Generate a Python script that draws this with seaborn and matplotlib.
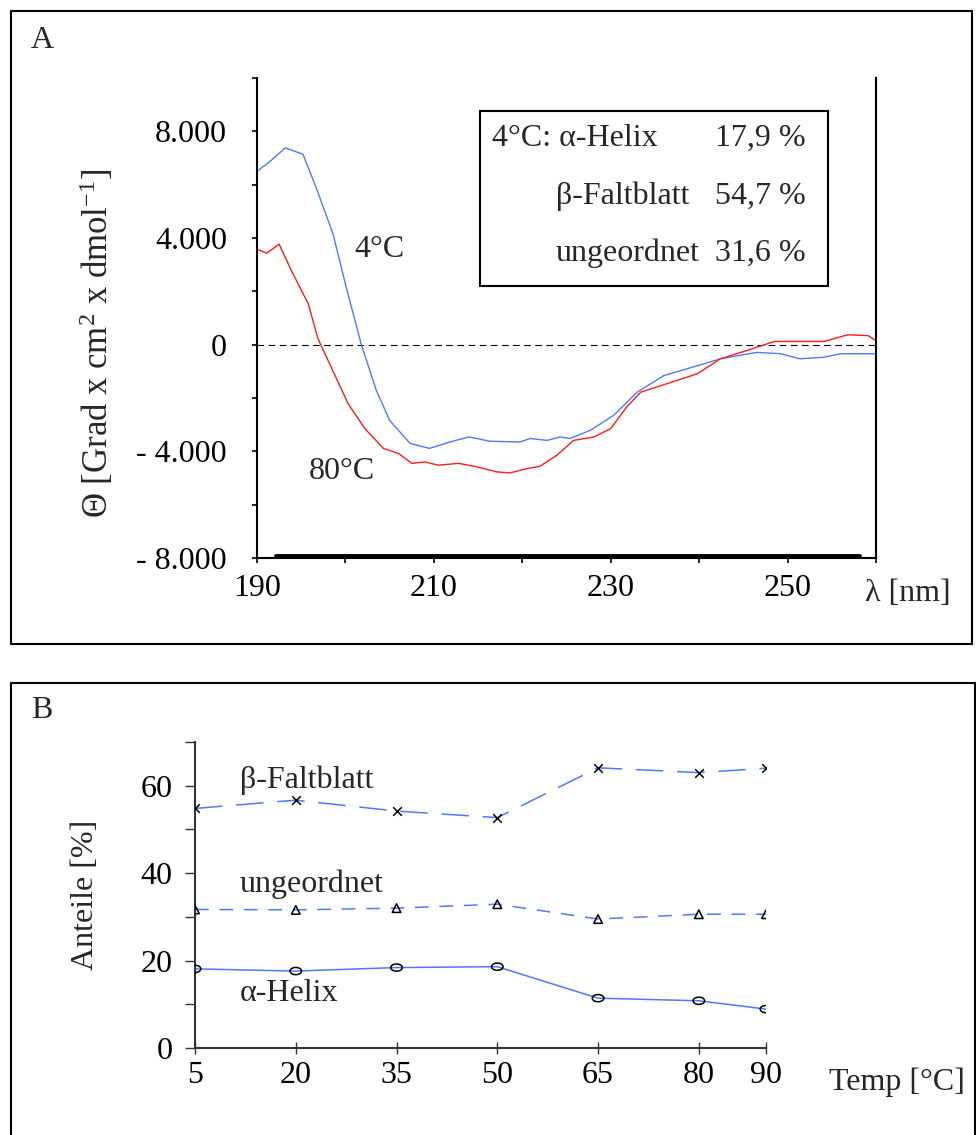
import numpy as np
import pandas as pd
import matplotlib
matplotlib.use("Agg")
import matplotlib.pyplot as plt
import seaborn as sns
from matplotlib.patches import Rectangle
from matplotlib.lines import Line2D
from matplotlib.path import Path
from matplotlib.transforms import Affine2D

# panel A: CD spectra
wl_4c = [190, 191.5, 193.2, 195.2, 196.7, 198.6, 200.1, 201.8, 203.5, 205, 207.3, 209.5,
         211.8, 214, 216.3, 219.7, 220.9, 222.8, 224.3, 225.4, 227.7, 230.3, 233, 236,
         239.8, 242.4, 246.5, 249.2, 251.4, 254.1, 256, 260]
theta_4c = [6500, 6880, 7380, 7140, 5880, 4150, 2140, 0, -1720, -2840, -3700, -3890,
            -3650, -3460, -3620, -3650, -3520, -3590, -3460, -3520, -3210, -2660, -1780, -1160,
            -790, -530, -290, -340, -530, -470, -340, -340]
wl_80c = [190, 191.1, 192.5, 193.9, 195.8, 196.9, 198.4, 200.3, 202.2, 204.3, 206, 207.5,
          209, 210.5, 212.8, 215, 217.1, 218.6, 220.5, 222, 223.9, 225.8, 228.1, 230,
          231.8, 233.4, 236.4, 239.8, 242.4, 245.4, 248.5, 254.1, 256.8, 259.1, 260]
theta_80c = [3580, 3430, 3770, 2770, 1530, 220, -850, -2210, -3150, -3890, -4080, -4450,
             -4400, -4520, -4450, -4590, -4770, -4810, -4650, -4560, -4150, -3590, -3460, -3150,
             -2340, -1780, -1460, -1090, -530, -220, 120, 120, 370, 340, 150]
base_x = [192.2, 258.2]
base_y = [-7930, -7930]

a_xticks = [190, 200, 210, 220, 230, 240, 250, 260]
a_xticklabels = ["190", "", "210", "", "230", "", "250", ""]
a_yticks = [-8000, -6000, -4000, -2000, 0, 2000, 4000, 6000, 8000, 10000]
a_yticklabels = ["- 8.000", "", "- 4.000", "", "0", "", "4.000", "", "8.000", ""]

box_names = ["4°C: α-Helix", "β-Faltblatt", "ungeordnet"]
box_values = ["17,9 %", "54,7 %", "31,6 %"]

# panel B: secondary structure vs temperature
temps = [5, 20, 35, 50, 65, 80, 90]
beta = [54.8, 56.7, 54.2, 52.7, 64.1, 63.0, 64.0]
coil = [31.7, 31.6, 32.0, 32.9, 29.5, 30.6, 30.6]
helix = [18.1, 17.6, 18.4, 18.6, 11.4, 10.8, 8.9]
b_yticks = [0, 10, 20, 30, 40, 50, 60, 70]
b_yticklabels = ["0", "", "20", "", "40", "", "60", ""]

sns.set_theme(style="ticks")
plt.rcParams['font.family'] = ['Liberation Serif', 'DejaVu Serif']
plt.rcParams['mathtext.fontset'] = 'custom'
plt.rcParams['mathtext.rm'] = 'Liberation Serif'
plt.rcParams['mathtext.it'] = 'Liberation Serif:italic'

BLUE = "#4a7aff"
RED = "#ff1a1a"
FS = 23

W, H = 976, 1135
fig = plt.figure(figsize=(W / 100, H / 100), dpi=100)

def fx(px):
    return px / W

def fy(py):
    return 1 - py / H

# frames
fig.add_artist(Rectangle((fx(10.7), fy(644)), fx(972 - 10.7), (644 - 10.7) / H,
                         transform=fig.transFigure, fill=False, lw=1.5, ec='black'))
for xs, ys in [([10.7, 10.7], [1135, 683]), ([10.7, 975], [683, 683]), ([975, 975], [683, 1135])]:
    fig.add_artist(Line2D([fx(v) for v in xs], [fy(v) for v in ys],
                          transform=fig.transFigure, lw=1.5, color='black'))
fig.text(fx(42), fy(40), "A", fontsize=FS, ha='center', va='center')
fig.text(fx(42), fy(711), "B", fontsize=FS, ha='center', va='center')

# ---- panel A
axA = fig.add_axes([fx(257), fy(558), (876 - 257) / W, (558 - 78) / H])
axA.axhline(0, color='black', lw=0.8, dashes=(6, 4))
sns.lineplot(x=wl_4c, y=theta_4c, ax=axA, color=BLUE, lw=1.0, estimator=None, sort=False)
sns.lineplot(x=wl_80c, y=theta_80c, ax=axA, color=RED, lw=1.0, estimator=None, sort=False)
sns.lineplot(x=base_x, y=base_y, ax=axA, color='black', lw=2.8, estimator=None, sort=False)
axA.set_xlim(190, 260)
axA.set_ylim(-8000, 10000)
axA.set_xticks(a_xticks, a_xticklabels)
axA.set_yticks(a_yticks, a_yticklabels)
axA.spines['top'].set_visible(False)
for s in ['left', 'right', 'bottom']:
    axA.spines[s].set_linewidth(1.5)
    axA.spines[s].set_color('black')
axA.tick_params(axis='both', direction='out', length=3.6, width=1.2, color='black',
                labelsize=FS, labelcolor='black')
axA.tick_params(axis='y', pad=18)
axA.tick_params(axis='x', pad=8)
axA.set_xlabel("λ [nm]", fontsize=FS, va='center')
axA.xaxis.set_label_coords(1.0517, -0.073)
axA.set_ylabel(r"Θ [Grad x cm$^2$ x dmol$^{-1}$]", fontsize=25, va='center')
axA.yaxis.set_label_coords(-0.2585, 0.448)

axA.text(0.1987, 0.6417, "4°C", transform=axA.transAxes, fontsize=FS, ha='center', va='center')
axA.text(0.137, 0.18, "80°C", transform=axA.transAxes, fontsize=FS, ha='center', va='center')

axA.add_patch(Rectangle((0.360, 0.5667), 0.5625, 0.3652, transform=axA.transAxes,
                        fill=False, lw=1.5, ec='black'))
rows_y = [0.875, 0.7527, 0.6354]
name_x = [0.379, 0.483, 0.483]
for name, val, yy, xx in zip(box_names, box_values, rows_y, name_x):
    axA.text(xx, yy, name, transform=axA.transAxes, fontsize=FS, ha='left', va='center')
    axA.text(0.887, yy, val, transform=axA.transAxes, fontsize=FS, ha='right', va='center')

# ---- panel B
axB = fig.add_axes([fx(195), fy(1048), (766 - 195) / W, (1048 - 742) / H])
sns.lineplot(x=temps, y=beta, ax=axB, color=BLUE, lw=1.1, linestyle=(0, (18, 9)),
             estimator=None, sort=False)
sns.lineplot(x=temps, y=coil, ax=axB, color=BLUE, lw=1.1, linestyle=(0, (9, 7)),
             estimator=None, sort=False)
sns.lineplot(x=temps, y=helix, ax=axB, color=BLUE, lw=1.1, estimator=None, sort=False)

ellipse = Path.unit_circle().transformed(Affine2D().scale(1.0, 0.62))
sns.scatterplot(x=temps, y=beta, ax=axB, marker='x', color='black', s=38, linewidth=1.1, zorder=5)
sns.scatterplot(x=temps, y=coil, ax=axB, marker='^', s=38, facecolors='none',
                edgecolors='black', linewidth=1.1, zorder=5)
sns.scatterplot(x=temps, y=helix, ax=axB, marker=ellipse, s=70, facecolors='none',
                edgecolors='black', linewidth=1.1, zorder=5)

axB.set_xlim(5, 90)
axB.set_ylim(0, 70)
axB.set_xticks(temps, [str(t) for t in temps])
axB.set_yticks(b_yticks, b_yticklabels)
sns.despine(ax=axB)
for s in ['left', 'bottom']:
    axB.spines[s].set_linewidth(1.5)
    axB.spines[s].set_color('#333333')
axB.tick_params(axis='y', direction='out', length=7, width=1.0, color='#333333',
                labelsize=FS, labelcolor='black', pad=9)
axB.tick_params(axis='x', direction='inout', length=8.6, width=1.0, color='#333333',
                labelsize=FS, labelcolor='black', pad=5)
axB.set_xlabel("Temp [°C]", fontsize=FS, va='center')
axB.xaxis.set_label_coords(1.229, -0.111)
axB.set_ylabel("Anteile [%]", fontsize=FS, va='center')
axB.yaxis.set_label_coords(-0.1926, 0.5)

axB.text(11.7, 61.3, "β-Faltblatt", fontsize=FS, ha='left', va='center')
axB.text(11.7, 37.5, "ungeordnet", fontsize=FS, ha='left', va='center')
axB.text(11.7, 12.4, "α-Helix", fontsize=FS, ha='left', va='center')

fig.savefig("out.png", dpi=100)
